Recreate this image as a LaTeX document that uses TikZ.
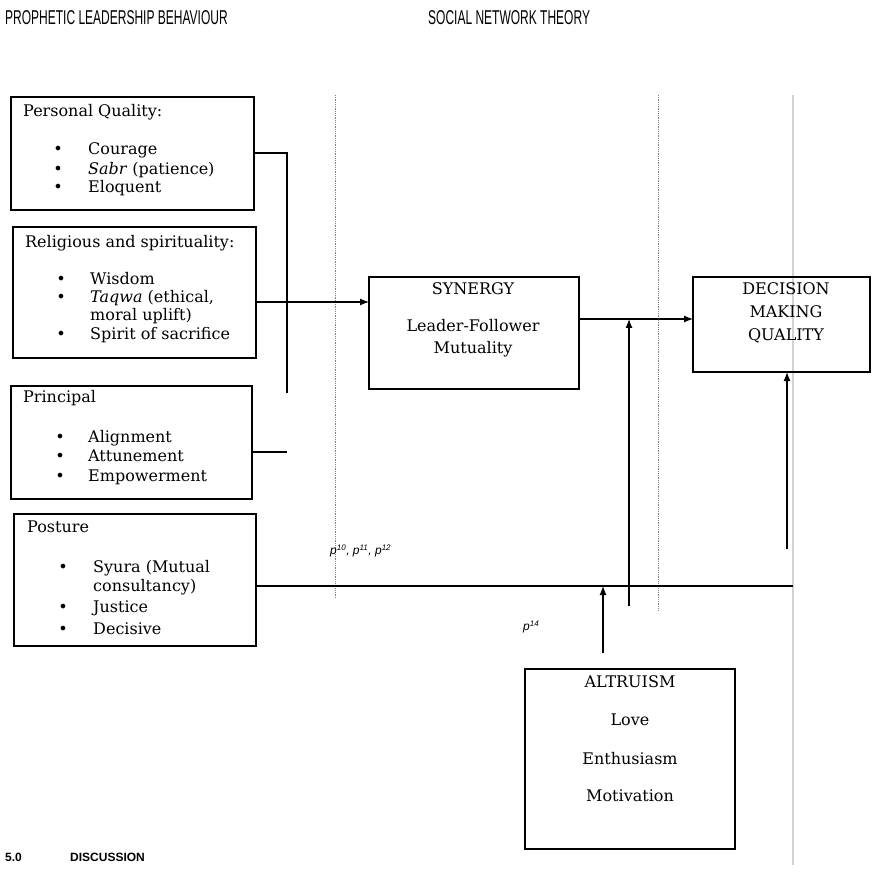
\documentclass[tikz,border=0pt]{standalone}
\usepackage{fontspec}
\setmainfont{DejaVu Serif}
\newfontfamily\headfont[FakeStretch=0.6]{Liberation Sans}
\newfontfamily\labfont{Liberation Sans}
\usetikzlibrary{positioning, arrows.meta}

\begin{document}
\begin{tikzpicture}[x=1pt, y=-1pt,
    box/.style={draw, line width=1.2pt, anchor=north west, inner sep=0pt, outer sep=0pt},
    txt/.style={anchor=mid west, inner sep=0pt, font=\fontsize{16}{19}\selectfont},
    ctr/.style={anchor=mid, inner sep=0pt, font=\fontsize{16}{19}\selectfont},
    hd/.style={anchor=west, inner sep=0pt, font=\headfont\fontsize{20}{24}\selectfont},
    plab/.style={anchor=mid west, inner sep=0pt, font=\labfont\itshape\fontsize{12}{14}\selectfont},
    ln/.style={line width=1.2pt},
    arr/.style={-{Latex[length=9pt,width=7pt]}, line width=1.2pt}]
  \useasboundingbox (0,0) rectangle (881,877);

  % Headings
  \node[hd] (h1) at (5,18) {PROPHETIC LEADERSHIP BEHAVIOUR};
  \node[hd] (h2) at (428,18) {SOCIAL NETWORK THEORY};

  % Separators
  \draw[densely dotted, gray, line width=0.8pt] (335,95) -- (335,598);
  \draw[densely dotted, gray, line width=0.8pt] (658,95) -- (658,610);
  \draw[gray!35, line width=1.6pt] (793,95) -- (793,865);

  % Personal quality
  \node[box, minimum width=243pt, minimum height=113pt] (pq) at (11,97) {};
  \node[txt] (pq-t) at (23,114) {Personal Quality:};
  \node[ctr] (pq-d1) at (58,152) {\textbullet};
  \node[txt] (pq-1) at (88,152) {Courage};
  \node[ctr] (pq-d2) at (58,172) {\textbullet};
  \node[txt] (pq-2) at (88,172) {\textit{Sabr} (patience)};
  \node[ctr] (pq-d3) at (58,190) {\textbullet};
  \node[txt] (pq-3) at (88,190) {Eloquent};

  % Religious and spirituality
  \node[box, minimum width=243pt, minimum height=131pt] (rs) at (13,227) {};
  \node[txt] (rs-t) at (25,245) {Religious and spirituality:};
  \node[ctr] (rs-d1) at (61,282) {\textbullet};
  \node[txt] (rs-1) at (90,282) {Wisdom};
  \node[ctr] (rs-d2) at (61,300) {\textbullet};
  \node[txt] (rs-2) at (90,300) {\textit{Taqwa} (ethical,};
  \node[txt] (rs-2b) at (90,318) {moral uplift)};
  \node[ctr] (rs-d3) at (61,337) {\textbullet};
  \node[txt] (rs-3) at (90,337) {Spirit of sacrifice};

  % Principal
  \node[box, minimum width=241pt, minimum height=113pt] (pr) at (11,386) {};
  \node[txt] (pr-t) at (23,400) {Principal};
  \node[ctr] (pr-d1) at (60,440) {\textbullet};
  \node[txt] (pr-1) at (88,440) {Alignment};
  \node[ctr] (pr-d2) at (60,459) {\textbullet};
  \node[txt] (pr-2) at (88,459) {Attunement};
  \node[ctr] (pr-d3) at (60,479) {\textbullet};
  \node[txt] (pr-3) at (88,479) {Empowerment};

  % Posture
  \node[box, minimum width=242pt, minimum height=132pt] (po) at (14,514) {};
  \node[txt] (po-t) at (27,530) {Posture};
  \node[ctr] (po-d1) at (63,570) {\textbullet};
  \node[txt] (po-1) at (93,570) {Syura (Mutual};
  \node[txt] (po-1b) at (93,589) {consultancy)};
  \node[ctr] (po-d2) at (63,610) {\textbullet};
  \node[txt] (po-2) at (93,610) {Justice};
  \node[ctr] (po-d3) at (63,632) {\textbullet};
  \node[txt] (po-3) at (93,632) {Decisive};

  % Synergy
  \node[box, minimum width=210pt, minimum height=112pt] (syn) at (369,277) {};
  \node[ctr] (syn-t) at (473,292) {SYNERGY};
  \node[ctr] (syn-1) at (473,329) {Leader-Follower};
  \node[ctr] (syn-2) at (473,351) {Mutuality};

  % Decision making quality
  \node[box, minimum width=177pt, minimum height=95pt] (dmq) at (693,277) {};
  \node[ctr] (dmq-1) at (786,292) {DECISION};
  \node[ctr] (dmq-2) at (786,315) {MAKING};
  \node[ctr] (dmq-3) at (786,338) {QUALITY};

  % Altruism
  \node[box, minimum width=210pt, minimum height=180pt] (alt) at (525,669) {};
  \node[ctr] (alt-t) at (630,685) {ALTRUISM};
  \node[ctr] (alt-1) at (630,723) {Love};
  \node[ctr] (alt-2) at (630,762) {Enthusiasm};
  \node[ctr] (alt-3) at (630,799) {Motivation};

  % Junction points
  \coordinate (j1) at (287,153);
  \coordinate (j2) at (287,393);
  \coordinate (j3) at (287,452);
  \coordinate (r1) at (0,302);
  \coordinate (g1) at (793,586);
  \coordinate (m1) at (629,606);
  \coordinate (m2) at (629,319);
  \coordinate (d1) at (787,549);
  \coordinate (a1) at (603,653);
  \coordinate (a2) at (603,586);

  % Connectors
  \draw[ln] (pq.east |- j1) -- (j1) -- (j2);
  \draw[arr] (rs.east |- r1) -- (syn.west |- r1);
  \draw[ln] (pr.east |- j3) -- (j3);
  \draw[ln] (po.east |- g1) -- (g1);
  \draw[arr] (syn.east |- m2) -- (dmq.west |- m2);
  \draw[arr] (m1) -- (m2);
  \draw[arr] (d1) -- (dmq.south -| d1);
  \draw[arr] (a1) -- (a2);

  % Path labels
  \node[plab] (p1) at (330,552) {p\textsuperscript{10}, p\textsuperscript{11}, p\textsuperscript{12}};
  \node[plab] (p2) at (523,628) {p\textsuperscript{14}};

  % Section heading
  \node[anchor=west, inner sep=0pt, font=\labfont\bfseries\fontsize{12}{14}\selectfont] (s1) at (5,857) {5.0};
  \node[anchor=west, inner sep=0pt, font=\labfont\bfseries\fontsize{12}{14}\selectfont] (s2) at (70,857) {DISCUSSION};
\end{tikzpicture}
\end{document}
